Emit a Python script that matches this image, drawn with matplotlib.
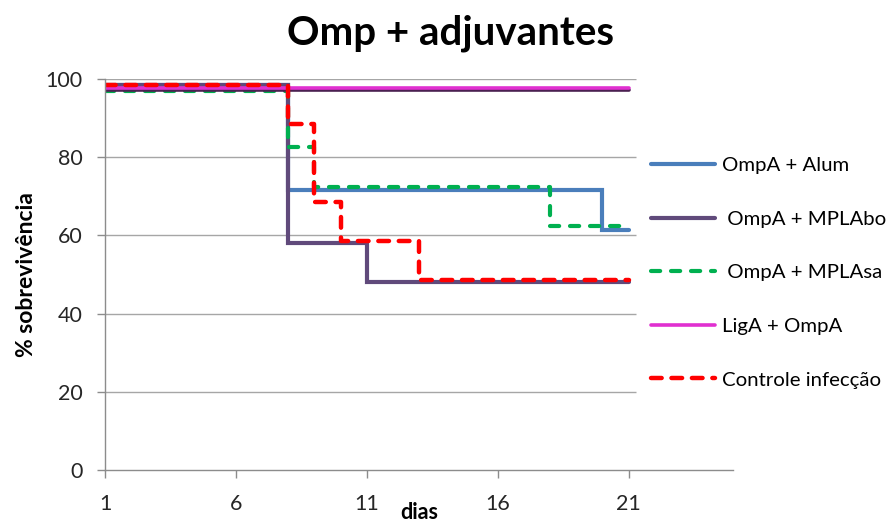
import matplotlib
matplotlib.use("Agg")
from matplotlib import pyplot as plt
from matplotlib.lines import Line2D
import matplotlib.patheffects as pe

plt.rcParams["font.family"] = ["Lato", "DejaVu Sans"]

# survival curves: day where each step starts, survival (%) from that day on
alum_days = [1, 8, 20, 21]
alum_surv = [98.5, 71.5, 61.5, 61.5]

mplabo_days = [1, 8, 11, 21]
mplabo_surv = [98.5, 58, 48, 48]

mplasa_days = [1, 8, 9, 18, 21]
mplasa_surv = [96.8, 82.5, 72.5, 62.5, 62.5]

liga_days = [1, 21]
liga_surv = [97.8, 97.8]

controle_days = [1, 8, 9, 10, 13, 21]
controle_surv = [98.5, 88.5, 68.5, 58.5, 48.5, 48.5]

labels = ["OmpA + Alum", " OmpA + MPLAbo", " OmpA + MPLAsa", "LigA + OmpA", "Controle infecção"]
x_ticks = [1, 6, 11, 16, 21]
y_ticks = [0, 20, 40, 60, 80, 100]

fig = plt.figure(figsize=(8.9, 5.23), dpi=100)
ax = fig.add_axes([0.118, 0.101, 0.706, 0.748])

grey = "#8c8c8c"
for y in y_ticks[1:]:
    ax.plot([1, 21.3], [y, y], color="#a6a6a6", lw=1.0, zorder=0, solid_capstyle="butt")

styles = [
    dict(color="#4a7ebb", lw=3.0, ls="-"),
    dict(color="#604a7b", lw=3.0, ls="-"),
    dict(color="#00b050", lw=3.0, ls=(0, (2.2, 2.6))),
    dict(color="#e030d0", lw=2.6, ls="-"),
    dict(color="#ff0000", lw=3.2, ls=(0, (2.4, 2.2))),
]
series = [
    (alum_days, alum_surv),
    (mplabo_days, mplabo_surv),
    (mplasa_days, mplasa_surv),
    (liga_days, liga_surv),
    (controle_days, controle_surv),
]

for (d, s), st in zip(series, styles):
    line, = ax.step(d, s, where="post", color=st["color"], lw=st["lw"], ls=st["ls"],
                    dash_capstyle="round", solid_capstyle="round", solid_joinstyle="miter")
    if st["color"] == "#e030d0":
        line.set_path_effects([pe.SimpleLineShadow(offset=(0, -1.6), shadow_color="#4a2050", alpha=1.0),
                               pe.Normal()])

ax.set_xlim(1, 25)
ax.set_ylim(0, 100)
ax.set_xticks(x_ticks)
ax.set_yticks(y_ticks)
ax.tick_params(axis="x", direction="out", length=6, width=1, color=grey, pad=11,
               labelsize=15.5, labelcolor="#262626")
ax.tick_params(axis="y", direction="out", length=6, width=1, color=grey, pad=10,
               labelsize=15.5, labelcolor="#262626")
for side in ["top", "right"]:
    ax.spines[side].set_visible(False)
for side in ["left", "bottom"]:
    ax.spines[side].set_color(grey)
    ax.spines[side].set_linewidth(1)

fig.text(0.506, 0.936, "Omp + adjuvantes", fontsize=29, fontweight="bold", ha="center", va="center")
ax.set_ylabel("% sobrevivência", fontsize=16.5, fontweight="bold", labelpad=6)
ax.text(13.0, -10.7, "dias", fontsize=15.5, fontweight="bold", ha="center", va="center",
        transform=ax.transData)

handles = [Line2D([0], [0], color=st["color"], lw=st["lw"], ls=st["ls"],
                  dash_capstyle="round", solid_capstyle="round") for st in styles]
leg = fig.legend(handles, labels, loc="upper left", bbox_to_anchor=(0.727, 0.708),
                 frameon=True, fontsize=14.7, labelspacing=1.78, handlelength=3.15,
                 handletextpad=0.3, borderpad=0.2, borderaxespad=0)
leg.get_frame().set_edgecolor("white")
leg.get_frame().set_facecolor("white")
leg.get_frame().set_alpha(1)

fig.savefig("out.png", dpi=100)
